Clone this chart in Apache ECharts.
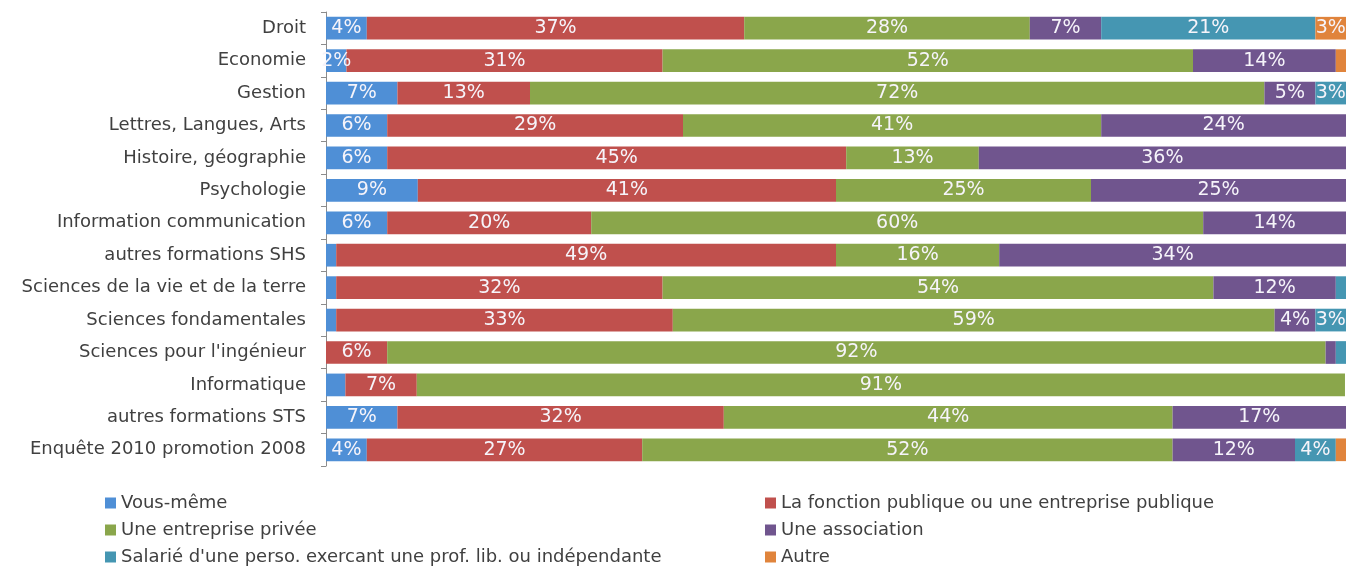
<!DOCTYPE html>
<html lang="fr">
<head>
  <meta charset="UTF-8">
  <title>Type d'employeur par formation</title>
  <script src="https://cdn.jsdelivr.net/npm/echarts/dist/echarts.min.js"></script>
  <style>
    body { margin: 0; background: #ffffff; }
    #main { width: 1346px; height: 566px; }
  </style>
</head>
<body>
  <div id="main"></div>
  <script>
    const categories = [
      'Droit', 'Economie', 'Gestion', 'Lettres, Langues, Arts', 'Histoire, géographie',
      'Psychologie', 'Information communication', 'autres formations SHS',
      'Sciences de la vie et de la terre', 'Sciences fondamentales',
      "Sciences pour l'ingénieur", 'Informatique', 'autres formations STS',
      'Enquête 2010 promotion 2008'
    ];
    const seriesNames = [
      'Vous-même', 'La fonction publique ou une entreprise publique', 'Une entreprise privée',
      'Une association', "Salarié d'une perso. exercant une prof. lib. ou indépendante", 'Autre'
    ];
    // valeurs en %
    const vousMeme    = [4, 2, 7, 6, 6, 9, 6, 1, 1, 1, 0, 1.9, 7, 4];
    const fonctionPub = [37, 31, 13, 29, 45, 41, 20, 49, 32, 33, 6, 7, 32, 27];
    const entPrivee   = [28, 52, 72, 41, 13, 25, 60, 16, 54, 59, 92, 91, 44, 52];
    const association = [7, 14, 5, 24, 36, 25, 14, 34, 12, 4, 1, 0, 17, 12];
    const salarie     = [21, 0, 3, 0, 0, 0, 0, 0, 1, 3, 1, 0, 0, 4];
    const autre       = [3, 1, 0, 0, 0, 0, 0, 0, 0, 0, 0, 0, 0, 1];

    const allValues = [vousMeme, fonctionPub, entPrivee, association, salarie, autre];
    const colors = ['#4f8fd6', '#c0504d', '#8aa64b', '#70558e', '#4596b2', '#e0843c'];

    const chart = echarts.init(document.getElementById('main'));
    const font = "'DejaVu Sans', sans-serif";

    const series = allValues.map((vals, i) => ({
      name: seriesNames[i],
      type: 'bar',
      stack: 'total',
      barCategoryGap: '30%',
      data: vals,
      itemStyle: { color: colors[i] },
      label: {
        show: true,
        position: 'inside',
        color: '#f6f4fa',
        fontFamily: font,
        fontSize: 19,
        formatter: p => (p.value >= 2 ? Math.round(p.value) + '%' : '')
      }
    }));

    const legendStyle = {
      orient: 'vertical', top: 492, height: 80, padding: 0,
      icon: 'rect', itemWidth: 11, itemHeight: 11, itemGap: 5,
      textStyle: { color: '#404040', fontFamily: font, fontSize: 18, lineHeight: 22 }
    };

    chart.setOption({
      backgroundColor: '#ffffff',
      animation: false,
      color: colors,
      grid: { left: 326, right: 0, top: 12, bottom: 100 },
      xAxis: { type: 'value', min: 0, max: 100, show: false },
      yAxis: {
        type: 'category',
        data: categories,
        inverse: true,
        axisLine: { lineStyle: { color: '#8c8c8c' } },
        axisTick: { show: true, length: 5, lineStyle: { color: '#8c8c8c' } },
        axisLabel: { color: '#404040', fontFamily: font, fontSize: 18, margin: 20 }
      },
      legend: [
        Object.assign({ data: [seriesNames[0], seriesNames[2], seriesNames[4]], left: 105 }, legendStyle),
        Object.assign({ data: [seriesNames[1], seriesNames[3], seriesNames[5]], left: 765 }, legendStyle)
      ],
      series: series
    });
  </script>
</body>
</html>
